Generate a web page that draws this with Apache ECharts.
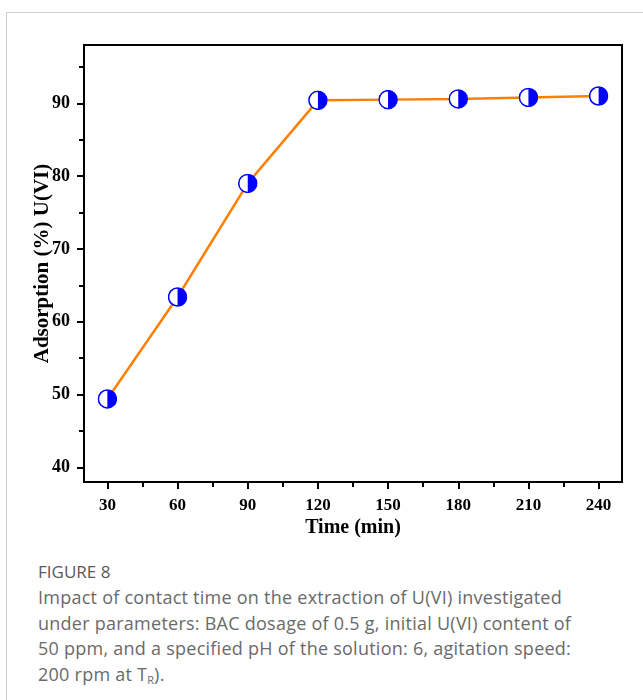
<!DOCTYPE html>
<html>
<head>
<meta charset="utf-8">
<script src="https://cdn.jsdelivr.net/npm/echarts@6/dist/echarts.min.js"></script>
<style>
  html, body { margin: 0; padding: 0; background: #fff; }
  body { width: 643px; height: 700px; position: relative; overflow: hidden; }
  .card { position: absolute; left: 6px; top: 12px; width: 700px; height: 700px;
          border-left: 1px solid #d0d0d0; border-top: 1px solid #d0d0d0; }
  #chart { position: absolute; left: 0; top: 0; width: 643px; height: 545px; }
  .caption { position: absolute; left: 38px; top: 559px; width: 600px; white-space: nowrap;
             font-family: "Open Sans", "Noto Sans", sans-serif; color: #6a6a6a; }
  .caption .title { font-size: 17px; color: #595959; font-weight: 500; line-height: 26px; }
  .caption .text { font-size: 18px; letter-spacing: 0.25px; line-height: 25.5px; }
  .caption sub { font-size: 11px; vertical-align: -3px; line-height: 0; letter-spacing: 0; }
</style>
</head>
<body>
<div class="card"></div>
<div id="chart"></div>
<div class="caption">
  <div class="title">FIGURE 8</div>
  <div class="text">Impact of contact time on the extraction of U(VI) investigated<br>under parameters: BAC dosage of 0.5 g, initial U(VI) content of<br>50 ppm, and a specified pH of the solution: 6, agitation speed:<br>200 rpm at T<sub>R</sub>).</div>
</div>

<script>
// 数据
const times = [30, 60, 90, 120, 150, 180, 210, 240];
const adsorption = [49.4, 63.4, 79.0, 90.4, 90.5, 90.6, 90.8, 91.0];

const xMajor = [30, 60, 90, 120, 150, 180, 210, 240];
const xMinor = [45, 75, 105, 135, 165, 195, 225];
const yMajor = [40, 50, 60, 70, 80, 90];
const yMinor = [45, 55, 65, 75, 85, 95];

const serif = '"Liberation Serif", "Times New Roman", serif';

// 半填充圆点
const markerSvg =
  "<svg xmlns='http://www.w3.org/2000/svg' width='40' height='40'>" +
  "<circle cx='20' cy='20' r='18' fill='white' stroke='#0000FF' stroke-width='3'/>" +
  "<path d='M20,2 A18,18 0 0,1 20,38 Z' fill='#0000FF'/>" +
  "</svg>";
const marker = 'image://data:image/svg+xml;charset=utf-8,' + encodeURIComponent(markerSvg);

const chart = echarts.init(document.getElementById('chart'));

const tickStyle = { color: '#000', width: 2 };

const option = {
  animation: false,
  grid: {
    left: 84, top: 45, right: 21, bottom: 63,
    show: true, borderColor: '#000', borderWidth: 2, backgroundColor: 'transparent'
  },
  xAxis: [
    {
      type: 'value', min: 20, max: 250,
      name: 'Time (min)', nameLocation: 'middle', nameGap: 36, nameMoveOverlap: false,
      nameTextStyle: { fontFamily: serif, fontWeight: 'bold', fontSize: 20, color: '#000' },
      axisLine: { show: true, lineStyle: { color: '#000', width: 2 } },
      axisTick: { show: true, customValues: xMajor, length: 7, lineStyle: tickStyle },
      axisLabel: { customValues: xMajor, margin: 15, fontFamily: serif, fontWeight: 'bold', fontSize: 17, color: '#000' },
      splitLine: { show: false }
    },
    {
      type: 'value', min: 20, max: 250, position: 'bottom',
      axisLine: { show: false },
      axisTick: { show: true, customValues: xMinor, length: 5, lineStyle: tickStyle },
      axisLabel: { show: false },
      splitLine: { show: false }
    }
  ],
  yAxis: [
    {
      type: 'value', min: 38, max: 98,
      name: 'Adsorption (%) U(VI)', nameLocation: 'middle', nameGap: 31, nameRotate: 90,
      nameMoveOverlap: false,
      nameTextStyle: { fontFamily: serif, fontWeight: 'bold', fontSize: 21, color: '#000' },
      axisLine: { show: true, lineStyle: { color: '#000', width: 2 } },
      axisTick: { show: true, customValues: yMajor, length: 7, lineStyle: tickStyle },
      axisLabel: { customValues: yMajor, margin: 14, fontFamily: serif, fontWeight: 'bold', fontSize: 18, color: '#000' },
      splitLine: { show: false }
    },
    {
      type: 'value', min: 38, max: 98, position: 'left', offset: 0,
      axisLine: { show: false },
      axisTick: { show: true, customValues: yMinor, length: 5, lineStyle: tickStyle },
      axisLabel: { show: false },
      splitLine: { show: false }
    }
  ],
  series: [
    {
      type: 'line',
      xAxisIndex: 0,
      yAxisIndex: 0,
      data: times.map((t, i) => [t, adsorption[i]]),
      symbol: marker,
      symbolSize: 20,
      lineStyle: { color: '#FF8000', width: 2.5 },
      itemStyle: { color: '#0000FF' },
      z: 3
    }
  ]
};

chart.setOption(option);
</script>
</body>
</html>
